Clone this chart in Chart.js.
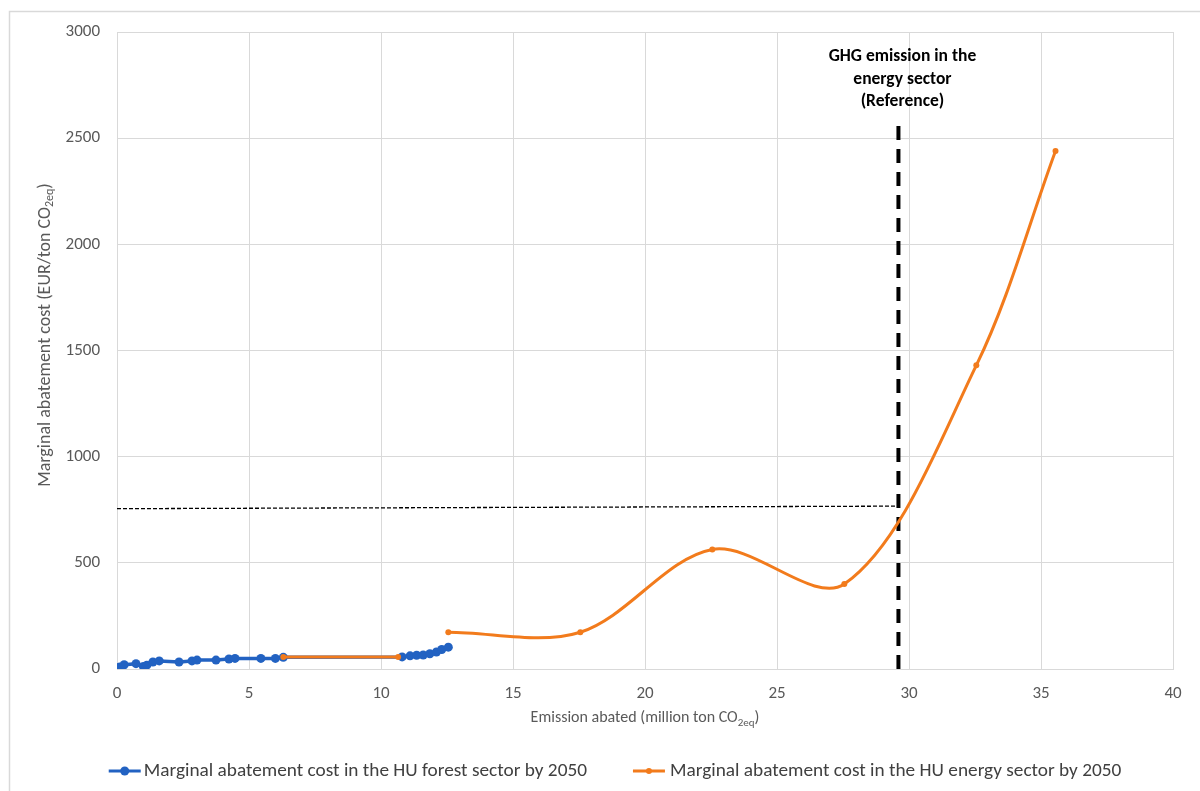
<!DOCTYPE html>
<html><head><meta charset="utf-8">
<script src="https://cdn.jsdelivr.net/npm/chart.js@4.4.0/dist/chart.umd.min.js"></script>
<style>html,body{margin:0;padding:0;background:#fff;overflow:hidden;}</style>
</head><body>
<canvas id="c" width="1200" height="791"></canvas>
<script>
// ---- data ----
const forestX = [0, 0.1, 0.27, 0.72, 1.0, 1.13, 1.36, 1.6, 2.35, 2.84, 3.03, 3.75, 4.24, 4.47, 5.45, 6.0, 6.3, 10.8, 11.1, 11.35, 11.6, 11.85, 12.1, 12.3, 12.55];
const forestY = [0, 10, 20, 25, 12, 18, 33, 38, 33, 38, 42, 42, 47, 50, 50, 50, 55, 57, 62, 65, 66, 72, 80, 92, 103];
const energyX = [6.3, 10.65, 11.6, 12.55, 17.55, 22.55, 27.55, 32.55, 35.55];
const energyY = [57, 57, null, 173, 173, 563, 400, 1430, 2440];
const refLineX = [0, 29.6];
const refLineY = [755, 767];
const refVertX = [29.6, 29.6];
const refVertY = [0, 2600];
const xTicks = {min: 0, max: 40, step: 5};
const yTicks = {min: 0, max: 3000, step: 500};
const seriesLabels = ['Marginal abatement cost in the HU forest sector by 2050', 'Marginal abatement cost in the HU energy sector by 2050'];
const annotationLines = ['GHG emission in the', 'energy sector', '(Reference)'];

const FONT = 'Carlito, Lato, "Liberation Sans", sans-serif';
const BLUE = '#2262c2';
const ORANGE = '#f27b1c';
const GRID = '#d9d9d9';
const TXT = '#595959';

const pts = (xs, ys) => xs.map((x, i) => ({x: x, y: ys[i]}));

function drawParts(ctx, parts, cx, cy, size) {
  let total = 0;
  const widths = parts.map(p => {
    ctx.font = (p[1] ? Math.round(size * 0.68) : size) + 'px ' + FONT;
    const w = ctx.measureText(p[0]).width; total += w; return w;
  });
  let x = cx - total / 2;
  ctx.textAlign = 'left';
  ctx.textBaseline = 'middle';
  parts.forEach((p, i) => {
    ctx.font = (p[1] ? Math.round(size * 0.68) : size) + 'px ' + FONT;
    ctx.fillText(p[0], x, cy + (p[1] ? size * 0.3 : 0));
    x += widths[i];
  });
}

const decor = {
  id: 'decor',
  beforeDraw(chart) {
    const ctx = chart.ctx;
    ctx.save();
    ctx.fillStyle = '#fff';
    ctx.fillRect(0, 0, chart.width, chart.height);
    ctx.strokeStyle = GRID;
    ctx.lineWidth = 1.5;
    ctx.strokeRect(9.5, 11.5, 1220, 820);
    ctx.restore();
  },
  afterDraw(chart) {
    const ctx = chart.ctx;
    const xs = chart.scales.x;
    const area = chart.chartArea;
    ctx.save();
    ctx.fillStyle = TXT;
    // y title
    ctx.save();
    ctx.translate(45, 335);
    ctx.rotate(-Math.PI / 2);
    drawParts(ctx, [['Marginal abatement cost (EUR/ton CO', false], ['2eq', true], [')', false]], 0, 0, 18);
    ctx.restore();
    // x title
    drawParts(ctx, [['Emission abated (million ton CO', false], ['2eq', true], [')', false]], (area.left + area.right) / 2, 718, 16);
    // annotation
    ctx.fillStyle = '#000';
    ctx.font = 'bold 17.5px ' + FONT;
    ctx.textAlign = 'center';
    ctx.textBaseline = 'middle';
    const ax = xs.getPixelForValue(refVertX[0]) + 4;
    annotationLines.forEach((t, i) => ctx.fillText(t, ax, 57 + i * 22.5));
    // legend
    ctx.font = '19.3px ' + FONT;
    const w1 = ctx.measureText(seriesLabels[0]).width;
    const w2 = ctx.measureText(seriesLabels[1]).width;
    const total = 32 + 3 + w1 + 46 + 32 + 5 + w2;
    let lx = 615 - total / 2;
    const ly = 771;
    const drawKey = (x, color, r) => {
      ctx.strokeStyle = color; ctx.lineWidth = 3;
      ctx.beginPath(); ctx.moveTo(x, ly); ctx.lineTo(x + 32, ly); ctx.stroke();
      ctx.fillStyle = color;
      ctx.beginPath(); ctx.arc(x + 16, ly, r, 0, Math.PI * 2); ctx.fill();
    };
    drawKey(lx, BLUE, 4.5);
    ctx.fillStyle = '#404040'; ctx.textAlign = 'left';
    ctx.fillText(seriesLabels[0], lx + 35, ly);
    lx += 35 + w1 + 46;
    drawKey(lx, ORANGE, 3);
    ctx.fillStyle = '#404040';
    ctx.fillText(seriesLabels[1], lx + 37, ly);
    ctx.restore();
  }
};

new Chart(document.getElementById('c'), {
  type: 'line',
  data: {
    datasets: [
      {label: seriesLabels[0], data: pts(forestX, forestY), borderColor: BLUE, backgroundColor: BLUE,
       borderWidth: 3.5, pointRadius: 4.5, pointBorderWidth: 0, tension: 0, order: 2},
      {label: seriesLabels[1], data: pts(energyX, energyY), borderColor: ORANGE, backgroundColor: ORANGE,
       borderWidth: 3, pointRadius: 3, pointBorderWidth: 0, tension: 0.33, spanGaps: false, order: 1},
      {label: 'ref-h', data: pts(refLineX, refLineY), borderColor: '#000', borderWidth: 1.3,
       borderDash: [4, 2], pointRadius: 0, order: 3},
      {label: 'ref-v', data: pts(refVertX, refVertY), borderColor: '#000', borderWidth: 4,
       borderDash: [14, 9], pointRadius: 0, order: 3}
    ]
  },
  options: {
    responsive: false,
    devicePixelRatio: 1,
    animation: false,
    layout: {padding: {left: 0, top: 32, right: 27, bottom: 0}},
    plugins: {legend: {display: false}, tooltip: {enabled: false}},
    scales: {
      x: {type: 'linear', min: xTicks.min, max: xTicks.max,
          ticks: {stepSize: xTicks.step, color: TXT, font: {size: 17, family: FONT}, padding: 15,
                  callback: v => String(v)},
          grid: {color: GRID, drawTicks: false}, border: {color: GRID},
          afterFit(s) { s.height = 122; }},
      y: {type: 'linear', min: yTicks.min, max: yTicks.max,
          ticks: {stepSize: yTicks.step, color: TXT, font: {size: 17, family: FONT}, padding: 17,
                  callback: v => String(v)},
          grid: {color: GRID, drawTicks: false}, border: {color: GRID},
          afterFit(s) { s.width = 117; }}
    }
  },
  plugins: [decor]
});
</script>
</body></html>
